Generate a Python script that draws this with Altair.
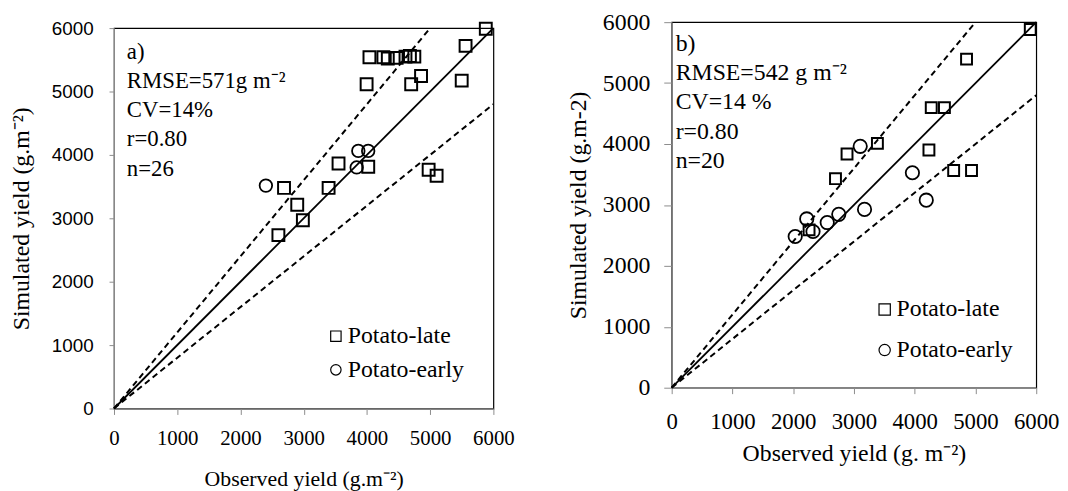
import altair as alt
import pandas as pd

# ---------------- data ----------------
# Panel a
a_late_obs = [5880, 5560, 4040, 4260, 4330, 4470, 4610, 4680, 4750, 3995, 4700, 4856, 5499,
              3551, 4021, 2689, 3394, 2898, 2987, 2600, 4976, 5102]
a_late_sim = [5990, 5720, 5540, 5540, 5520, 5530, 5550, 5560, 5550, 5115, 5115, 5245, 5172,
              3865, 3813, 3479, 3479, 3214, 2969, 2734, 3766, 3672]
a_early_obs = [2402, 3864, 4020, 3838]
a_early_sim = [3516, 4063, 4063, 3802]

# Panel b
b_late_obs = [5902, 4853, 4272, 4489, 3386, 2886, 4234, 2696, 4641, 4935, 2261]
b_late_sim = [5880, 5393, 4597, 4597, 4011, 3837, 3902, 3431, 3566, 3566, 2591]
b_early_obs = [3103, 3962, 4190, 3174, 2750, 2560, 2223, 2326, 2033]
b_early_sim = [3962, 3528, 3078, 2927, 2846, 2711, 2770, 2564, 2482]

# reference lines: 1:1 and +/-20 %
ref_name = ["1:1", "1:1", "+20%", "+20%", "-20%", "-20%"]
ref_obs = [0, 6000, 0, 5000, 0, 6000]
ref_sim = [0, 6000, 0, 6000, 0, 4800]

series_names = ["Potato-late", "Potato-early"]
ticks = [0, 1000, 2000, 3000, 4000, 5000, 6000]

ann_a = "a)\nRMSE=571g m\u207b\u00b2\nCV=14%\nr=0.80\nn=26"
ann_b = "b)\nRMSE=542 g m\u207b\u00b2\nCV=14 %\nr=0.80\nn=20"

SERIF = "Liberation Serif"
SANS = "Liberation Sans"
AXIS_GREY = "#8c8c8c"


def pts(obs, sim, name):
    return pd.DataFrame({"obs": obs, "sim": sim, "series": name})


ref_df = pd.DataFrame({"obs": ref_obs, "sim": ref_sim, "kind": ref_name})


def panel(late, early, ann, w, h, xt, yt, cfg):
    xscale = alt.Scale(domain=[0, 6000], nice=False)
    yscale = alt.Scale(domain=[0, 6000], nice=False)
    xaxis = alt.Axis(values=ticks, format="d", grid=False, title=xt, domainColor=AXIS_GREY,
                     tickColor=AXIS_GREY, tickSize=cfg["xtick"], labelFont=SERIF,
                     labelFontSize=cfg["xlab"], labelColor="black", labelOverlap=False,
                     labelFlush=False, labelPadding=cfg["xlabpad"], titleFont=SERIF,
                     titleFontSize=cfg["xtitle"], titleFontWeight="normal",
                     titleColor="black", titlePadding=cfg["xtitlepad"])
    yaxis = alt.Axis(values=ticks, format="d", grid=False, title=yt, domainColor=AXIS_GREY,
                     tickColor=AXIS_GREY, tickSize=cfg["ytick"], labelFont=cfg["yfont"],
                     labelFontSize=cfg["ylab"], labelColor="black", labelOverlap=False,
                     labelFlush=False, labelPadding=cfg["ylabpad"], titleFont=SERIF,
                     titleFontSize=cfg["ytitle"], titleFontWeight="normal",
                     titleColor="black", titlePadding=cfg["ytitlepad"])
    shape_scale = alt.Scale(domain=series_names, range=["square", "circle"])
    legend = alt.Legend(title=None, orient="none", legendX=cfg["legx"], legendY=cfg["legy"],
                        labelFont=SERIF, labelFontSize=cfg["leglab"], labelColor="black",
                        symbolSize=cfg["legsym"], symbolStrokeColor="black",
                        symbolStrokeWidth=1.2, symbolFillColor="transparent",
                        rowPadding=cfg["legrow"], labelOffset=cfg["legoff"])

    one = alt.Chart(ref_df).transform_filter(alt.datum.kind == "1:1").mark_line(
        color="black", strokeWidth=1.8).encode(
        x=alt.X("obs:Q", scale=xscale, axis=xaxis), y=alt.Y("sim:Q", scale=yscale, axis=yaxis))
    dashed = alt.Chart(ref_df).transform_filter(alt.datum.kind != "1:1").mark_line(
        color="black", strokeWidth=2, strokeDash=[6, 4]).encode(
        x="obs:Q", y="sim:Q", detail="kind:N")
    sq = alt.Chart(late).mark_point(filled=False, color="black", size=cfg["sqsize"],
                                    strokeWidth=2, opacity=1).encode(
        x="obs:Q", y="sim:Q",
        shape=alt.Shape("series:N", scale=shape_scale, legend=legend))
    ci = alt.Chart(early).mark_point(filled=False, color="black", size=cfg["cisize"],
                                     strokeWidth=1.8, opacity=1).encode(
        x="obs:Q", y="sim:Q",
        shape=alt.Shape("series:N", scale=shape_scale, legend=legend))
    txt = alt.Chart(pd.DataFrame({"t": [ann]})).mark_text(
        align="left", baseline="alphabetic", font=SERIF, fontSize=cfg["ann"],
        lineBreak="\n", lineHeight=cfg["annlh"], color="black").encode(
        x=alt.value(cfg["annx"]), y=alt.value(cfg["anny"]), text="t:N")
    return alt.layer(one, dashed, sq, ci, txt).properties(width=w, height=h)


cfg_a = dict(xtick=6, xlab=21, xlabpad=13, xtitle=22, xtitlepad=21,
             ytick=5, ylab=19, yfont=SANS, ylabpad=16, ytitle=24, ytitlepad=18,
             legx=212, legy=305, leglab=24, legsym=110, legrow=10, legoff=0,
             sqsize=144, cisize=160, ann=23, annlh=29.5, annx=13, anny=31)
cfg_b = dict(xtick=6, xlab=23, xlabpad=17, xtitle=24, xtitlepad=9,
             ytick=8, ylab=24, yfont=SERIF, ylabpad=14, ytitle=24, ytitlepad=12,
             legx=203, legy=278, leglab=24, legsym=130, legrow=17, legoff=0,
             sqsize=121, cisize=182, ann=24, annlh=29.5, annx=4, anny=29)

chart_a = panel(pts(a_late_obs, a_late_sim, "Potato-late"),
                pts(a_early_obs, a_early_sim, "Potato-early"),
                ann_a, 383, 384, "Observed yield  (g.m\u207b\u00b2)",
                "Simulated  yield (g.m\u207b\u00b2)", cfg_a)
chart_b = panel(pts(b_late_obs, b_late_sim, "Potato-late"),
                pts(b_early_obs, b_early_sim, "Potato-early"),
                ann_b, 368, 369, "Observed yield (g. m\u207b\u00b2)",
                "Simulated  yield (g.m-2)", cfg_b)

# invisible spacer that lowers panel a relative to panel b
spacer = alt.Chart(pd.DataFrame({"t": [""]})).mark_text(opacity=0).encode(
    text="t:N").properties(width=383, height=1,
                           view=alt.ViewBackground(stroke="transparent"))
col_a = alt.vconcat(spacer, chart_a, spacing=-11)

chart = alt.hconcat(col_a, chart_b, spacing=51).resolve_scale(
    x="independent", y="independent", shape="independent").configure_view(
    stroke="black", strokeWidth=1.2).configure_legend(labelFont=SERIF).configure_text(
    font=SERIF).properties(
    padding={"left": 1, "top": -1, "right": 0, "bottom": 0}, background="white")

chart.save("out.html", embed_options={"renderer": "svg", "actions": False})
